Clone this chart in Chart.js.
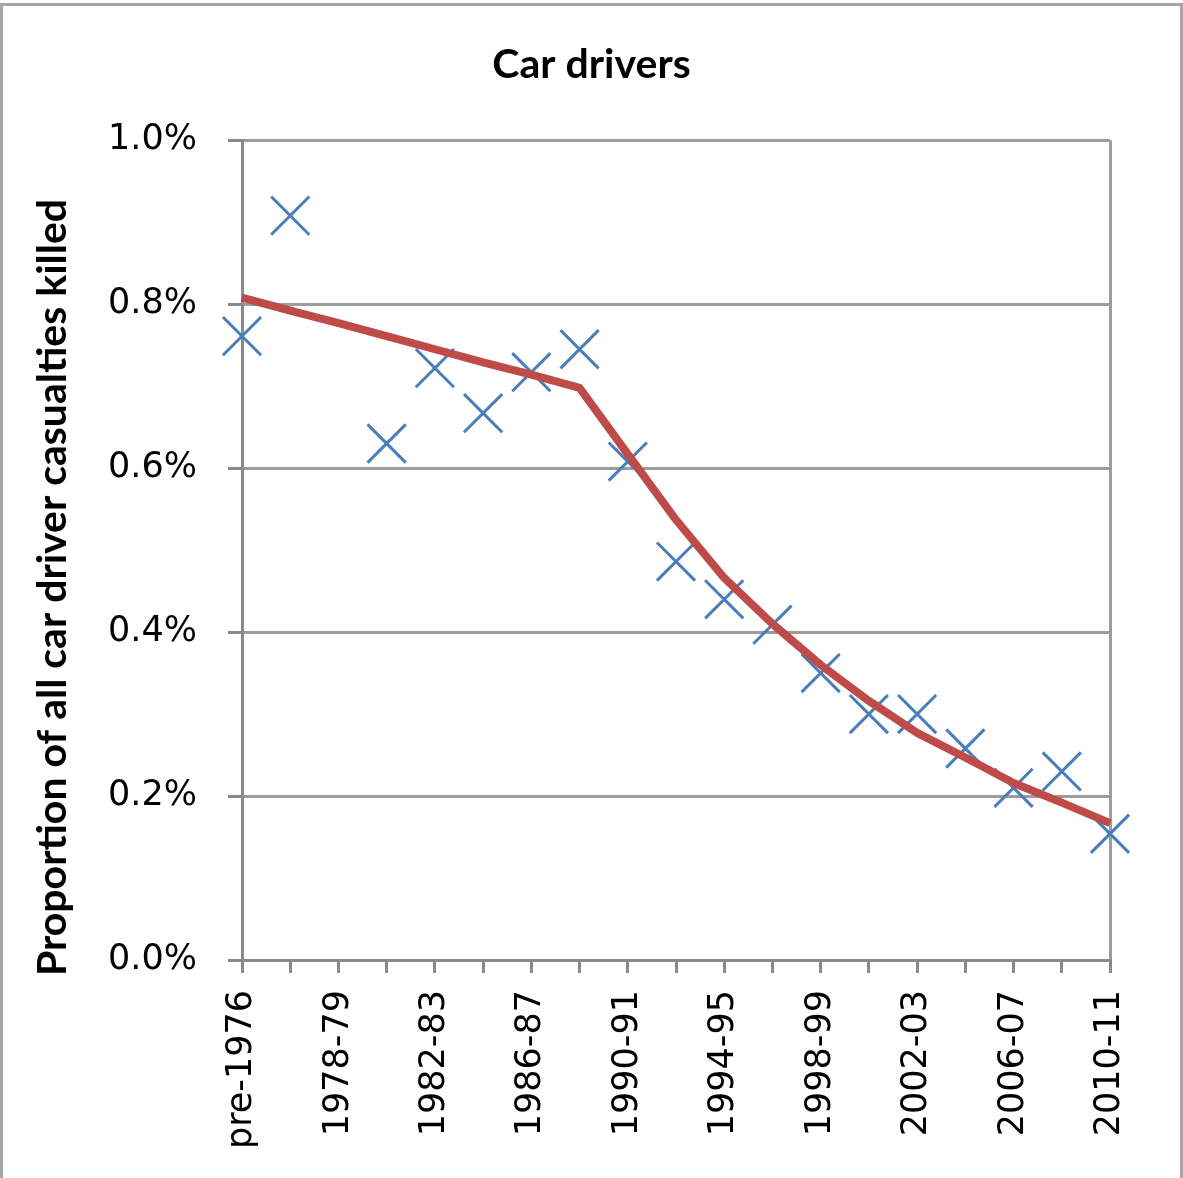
<!DOCTYPE html>
<html>
<head>
<meta charset="utf-8">
<script src="https://cdn.jsdelivr.net/npm/chart.js@4/dist/chart.umd.min.js"></script>
<style>
html,body{margin:0;padding:0;background:#fff;}
#wrap{width:1183px;height:1178px;position:relative;}
</style>
</head>
<body>
<div id="wrap"><canvas id="c" width="1183" height="1178"></canvas></div>
<script>
const categories = ['pre-1976','1976-77','1978-79','1980-81','1982-83','1984-85','1986-87','1988-89','1990-91','1992-93','1994-95','1996-97','1998-99','2000-01','2002-03','2004-05','2006-07','2008-09','2010-11'];
const observed = [0.761,0.908,null,0.630,0.722,0.667,0.717,0.745,0.608,0.486,0.440,0.409,0.350,0.300,0.300,0.258,0.210,0.230,0.154];
const trend = [0.808,0.792,0.777,0.761,0.745,0.729,0.714,0.698,0.617,0.537,0.466,0.410,0.360,0.316,0.277,0.247,0.216,0.192,0.167];
const yTicks = [0,0.2,0.4,0.6,0.8,1.0];

const GRID = '#9c9c9c';
const AXIS = '#8a8a8a';
const TICKFONT = "'DejaVu Sans', Verdana, sans-serif";
const frame = {
  id:'frame',
  afterLayout(chart){
    const s = chart.scales.y;
    if (!s._shifted) {
      const orig = s.drawTitle.bind(s);
      s.drawTitle = function(){
        const c = chart.ctx;
        c.save();
        c.translate(0, 16);
        orig();
        c.restore();
      };
      s._shifted = true;
    }
  },
  afterDraw(chart){
    const c = chart.ctx;
    c.save();
    c.strokeStyle = '#a6a6a6';
    c.lineWidth = 3;
    c.strokeRect(1.5, 4.5, 1180, 1190);
    c.restore();
  }
};

new Chart(document.getElementById('c'), {
  type:'line',
  data:{
    labels: categories,
    datasets:[
      {label:'Trend', data: trend, borderColor:'#BE4B48', borderWidth:8, pointRadius:0, tension:0, fill:false, borderJoinStyle:'round', borderCapStyle:'butt'},
      {label:'Observed', data: observed, showLine:false, pointStyle:'crossRot', pointRadius:27, pointHoverRadius:27, pointBorderColor:'#4A7EBB', pointBorderWidth:3, borderColor:'#4A7EBB', backgroundColor:'#4A7EBB'}
    ]
  },
  options:{
    responsive:false,
    animation:false,
    events:[],
    layout:{padding:{left:0,right:0,top:4,bottom:0}},
    plugins:{
      legend:{display:false},
      tooltip:{enabled:false},
      title:{display:true,text:'Car drivers',color:'#000',font:{family:'Lato',size:41,weight:'bold'},padding:{top:36,bottom:51}}
    },
    scales:{
      x:{
        type:'category',
        offset:false,
        afterFit(s){ s.height = 218; },
        border:{color:AXIS,width:3},
        grid:{
          color:(ctx)=> (ctx.index===categories.length-1) ? GRID : 'rgba(0,0,0,0)',
          lineWidth:3,
          drawTicks:true,
          tickLength:13,
          tickColor:AXIS,
          tickWidth:3
        },
        ticks:{
          autoSkip:false,
          maxRotation:90,
          minRotation:90,
          padding:17,
          color:'#000',
          font:{family:TICKFONT,size:35},
          callback:(v,i)=> i%2===0 ? categories[i] : ''
        }
      },
      y:{
        min:0,max:1.0,
        afterFit(s){ s.width = 242; },
        afterBuildTicks(s){ s.ticks = yTicks.map(v=>({value:v})); },
        border:{color:AXIS,width:3},
        grid:{color:GRID,lineWidth:3,tickLength:14,tickColor:AXIS,tickWidth:3},
        ticks:{
          padding:31,
          color:'#000',
          font:{family:TICKFONT,size:35},
          callback:(v)=> Number(v).toFixed(1)+'%'
        },
        title:{display:true,align:'start',text:'Proportion of all car driver casualties killed',color:'#000',font:{family:'Lato',size:41,weight:'bold'},padding:{top:28,bottom:0}}
      },
      yRight:{
        type:'linear',
        position:'right',
        display:true,
        afterFit(s){ s.width = 73; },
        grid:{display:false,drawTicks:false},
        border:{display:false},
        ticks:{display:false}
      }
    }
  },
  plugins:[frame]
});
</script>
</body>
</html>
